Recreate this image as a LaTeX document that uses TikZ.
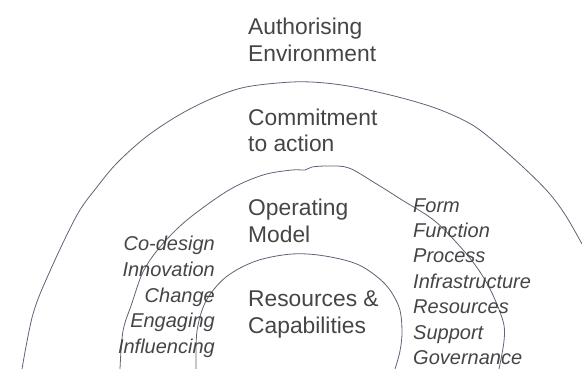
\documentclass[tikz,border=0pt]{standalone}
\usepackage{fontspec}
\setmainfont{Liberation Sans}
\definecolor{linec}{HTML}{5B6577}
\definecolor{textc}{HTML}{454545}
\begin{document}
\begin{tikzpicture}[x=1pt,y=-1pt,
  ring/.style={draw=linec,line width=0.8pt,smooth,tension=0.55},
  mainlbl/.style={anchor=base west,inner sep=0pt,text=textc,font=\fontsize{22.8}{27}\selectfont},
  leftlbl/.style={anchor=base east,inner sep=0pt,text=textc,font=\fontsize{20}{25}\selectfont\itshape},
  rightlbl/.style={anchor=base west,inner sep=0pt,text=textc,font=\fontsize{20}{25}\selectfont\itshape}]
\useasboundingbox (0,0) rectangle (582,369);
% rings
\draw[ring] plot coordinates {(22,369) (33,314) (50,271) (77,215) (97,187) (117,163) (146,137) (179,115) (213,98) (246,87) (292,82) (325,83) (359,88) (402,98) (438,109) (469,123) (490,138) (523,167) (549,193) (566,216) (582,244)};
\draw[ring] plot coordinates {(120,369) (123,331) (132,303) (143,272) (160,247) (187,220) (229,190) (263,175) (292,170) (305,170) (312,167) (329,166) (349,168) (375,183) (402,200) (436,222) (469,257) (489,287) (503,321) (504,341) (499,369)};
\draw[ring] plot coordinates {(196,369) (197,331) (206,301) (226,277) (256,261) (292,254) (325,256) (359,265) (385,284) (399,307) (402,331) (400,351) (395,369)};
% main labels
\node[mainlbl] (auth1) at (248,35) {Authorising};
\node[mainlbl] (auth2) at (248,62) {Environment};
\node[mainlbl] (comm1) at (248,125) {Commitment};
\node[mainlbl] (comm2) at (248,152) {to action};
\node[mainlbl] (oper1) at (248,215) {Operating};
\node[mainlbl] (oper2) at (248,242) {Model};
\node[mainlbl] (res1) at (248,306) {Resources \&};
\node[mainlbl] (res2) at (248,333) {Capabilities};
% left list
\foreach \t [count=\i from 0] in {Co-design,Innovation,Change,Engaging,Influencing}
  \node[leftlbl] (left\i) at (215,{251+25.5*\i}) {\t};
% right list
\foreach \t [count=\i from 0] in {Form,Function,Process,Infrastructure,Resources,Support,Governance}
  \node[rightlbl] (right\i) at (413,{212+25.4*\i}) {\t};
\end{tikzpicture}
\end{document}
